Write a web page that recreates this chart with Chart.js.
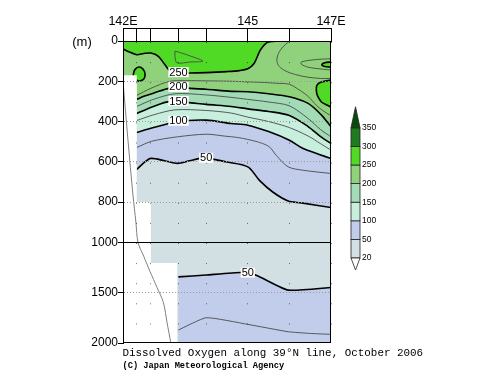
<!DOCTYPE html>
<html><head><meta charset="utf-8">
<script src="https://cdn.jsdelivr.net/npm/chart.js@4.4.1/dist/chart.umd.min.js"></script>
<style>html,body{margin:0;padding:0;background:#fff;}#wrap{width:500px;height:387px;}</style>
</head><body><div id="wrap"><canvas id="c" width="500" height="387"></canvas></div>
<script>
// ---------- data ----------
const stationLon = [142.0, 142.33, 142.67, 143.33, 144.0, 145.0, 146.0, 147.0];
const xLabelLon = [142, 145, 147];
const xLabelText = ['142E', '145', '147E'];
const depthTicks = [0, 200, 400, 600, 800, 1000, 1500, 2000];
const levels = [20, 50, 100, 150, 200, 250, 300, 350];
const bandColors = ['#ffffff','#d2dfe3','#c1cdea','#c8eedd','#a2dbb6','#8fd27b','#50da26','#1e7c1e','#0a4a0a'];

const c250Lon = [142.0,142.12,142.33,142.5,142.67,142.85,143.0,143.15,143.33,143.6,144.0,144.5,144.8,145.0,145.15,145.3,145.45,145.6,145.75,147.0];
const c250Dep = [40,52,68,62,60,76,116,152,158,159,157,152,147,138,112,45,9,2,0,0];
const c225Lon = [142.33,142.67,143.13,143.54,144.0,144.6,145.0,145.3,145.7,146.0,146.25,146.45,146.65,146.8,147.0];
const c225Dep = [270,235,200,197,198,200,203,205,210,215,245,275,320,345,372];
const c225bLon = [146.0,145.82,145.72,145.7,145.75,145.9,146.15,146.45,146.75,147.0];
const c225bDep = [0,35,70,100,125,148,167,180,186,186];
const c200Lon = [142.33,142.5,142.73,143.13,143.54,144.0,144.6,145.0,145.5,146.0,146.45,146.77,147.0];
const c200Dep = [290,275,259,234,234,240,250,252,262,277,310,368,426];
const c175Lon = [142.33,142.73,143.25,144.0,144.6,145.0,145.5,146.0,146.45,146.75,147.0];
const c175Dep = [325,290,262,268,280,290,303,322,385,440,476];
const c150Lon = [142.33,142.73,143.13,143.54,144.0,144.6,145.0,145.5,146.0,146.45,146.75,147.0];
const c150Dep = [360,325,300,305,315,325,337,350,370,425,475,509];
const c125Lon = [142.33,142.73,143.25,144.0,144.6,145.0,145.5,146.0,146.45,146.75,147.0];
const c125Dep = [395,367,342,345,358,378,400,430,472,510,542];
const c100Lon = [142.33,142.65,143.3,144.0,144.6,145.0,145.5,146.0,146.33,146.7,147.0];
const c100Dep = [455,435,401,393,410,418,450,493,534,562,584];
const c75Lon = [142.33,142.69,143.31,144.0,144.47,144.75,145.0,145.3,145.52,145.68,145.97,146.33,147.0];
const c75Dep = [529,498,476,463,473,479,489,505,526,567,625,642,658];
const c50Lon = [142.33,142.5,142.67,143.0,143.31,143.6,143.86,144.18,144.47,145.0,145.28,145.6,145.97,146.29,147.0];
const c50Dep = [638,605,583,595,608,595,583,588,600,625,692,750,795,804,827];
const cd50Lon = [143.33,144.0,144.83,145.2,145.97,147.0];
const cd50Dep = [1343,1325,1300,1327,1475,1449];
const cd75Lon = [143.33,144.0,145.0,145.97,146.5,147.0];
const cd75Dep = [1871,1749,1815,1888,1905,1914];

const loopLeftLon = [142.24,142.28,142.38,142.48,142.53,142.5,142.4,142.33,142.24];
const loopLeftDep = [174,144,129,139,164,189,199,194,174];
const loop275Lon = [143.25,143.5,143.92,143.62,143.3,143.25,143.25];
const loop275Dep = [50,66,100,104,109,80,50];
const rightPatchLon = [147.0,146.77,146.66,146.65,146.68,146.77,146.9,147.0];
const rightPatchDep = [194,204,220,250,274,303,318,328];
const tinyLoopLon = [147.0,146.85,146.78,146.85,147.0];
const tinyLoopDep = [104,108,118,127,130];
const ellipseLon = [147.0,146.65,146.3,146.28,146.45,146.8,147.0];
const ellipseDep = [88,92,103,114,130,140,144];

const maskLon = [142.0,142.333,142.333,142.67,142.67,143.31,143.31];
const maskDep = [170,170,800,800,1205,1205,2000];
const topoLon = [142.0,142.12,142.24,142.31,142.36,142.5,142.65,142.82,142.97,143.06,143.15];
const topoDep = [200,493,766,900,1000,1140,1290,1450,1596,1800,2000];

const labelText = ['250','200','150','100','50','50'];
const labelLon = [143.335,143.335,143.335,143.335,144.0,145.0];
const labelDep = [155,228,298,396,580,1300];

// ---------- helpers ----------
const T = d => d <= 1000 ? d : 1000 + (d - 1000) / 2;
const pts = (lons, deps) => lons.map((x, i) => ({x: x, y: T(deps[i])}));
const THICK = {borderColor: '#000', borderWidth: 1.6};
const THIN = {borderColor: '#4a4a4a', borderWidth: 0.9};
const FILL = c => ({fill: {value: T(2000)}, backgroundColor: c});
function ds(label, lons, deps, o) {
  return Object.assign({label: label, data: pts(lons, deps), pointRadius: 0, pointHoverRadius: 0,
    tension: 0.3, borderJoinStyle: 'round', fill: false}, o);
}
const B = bandColors;
const datasets = [
  ds('surface', [142, 147], [0, 0], Object.assign(FILL(B[6]), {borderWidth: 0, borderColor: 'rgba(0,0,0,0)', order: 100})),
  ds('c250', c250Lon, c250Dep, Object.assign(FILL(B[5]), THICK, {order: 95})),
  ds('loopLeft', loopLeftLon, loopLeftDep, Object.assign({fill: 'shape', backgroundColor: B[6]}, THICK, {order: 94})),
  ds('rightPatch', rightPatchLon, rightPatchDep, Object.assign({fill: 'shape', backgroundColor: B[6]}, THICK, {order: 94})),
  ds('tinyLoop', tinyLoopLon, tinyLoopDep, Object.assign({fill: 'shape', backgroundColor: B[6]}, THICK, {order: 94})),
  ds('c225', c225Lon, c225Dep, Object.assign({}, THIN, {order: 93})),
  ds('c225b', c225bLon, c225bDep, Object.assign({}, THIN, {order: 93})),
  ds('ellipse', ellipseLon, ellipseDep, Object.assign({}, THIN, {order: 93})),
  ds('loop275', loop275Lon, loop275Dep, Object.assign({}, THIN, {order: 93})),
  ds('c200', c200Lon, c200Dep, Object.assign(FILL(B[4]), THICK, {order: 90})),
  ds('c175', c175Lon, c175Dep, Object.assign({}, THIN, {order: 89})),
  ds('c150', c150Lon, c150Dep, Object.assign(FILL(B[3]), THICK, {order: 85})),
  ds('c125', c125Lon, c125Dep, Object.assign({}, THIN, {order: 84})),
  ds('c100', c100Lon, c100Dep, Object.assign(FILL(B[2]), THICK, {order: 80})),
  ds('c75', c75Lon, c75Dep, Object.assign({}, THIN, {order: 79})),
  ds('c50', c50Lon, c50Dep, Object.assign(FILL(B[1]), THICK, {order: 75})),
  ds('cd50', cd50Lon, cd50Dep, Object.assign(FILL(B[2]), THICK, {order: 70, tension: 0.15})),
  ds('cd75', cd75Lon, cd75Dep, Object.assign({}, THIN, {order: 69, tension: 0.15})),
  ds('mask', maskLon, maskDep, Object.assign(FILL('#ffffff'), {tension: 0, borderWidth: 0, borderColor: 'rgba(0,0,0,0)', order: 20})),
  ds('topo', topoLon, topoDep, {borderColor: '#808080', borderWidth: 1, tension: 0.3, order: 10})
];

const deco = {
  id: 'deco',
  afterDraw(chart) {
    const {ctx, chartArea: a, scales: {x, y}} = chart;
    ctx.save();
    // frame
    ctx.strokeStyle = '#000'; ctx.lineWidth = 1;
    ctx.strokeRect(a.left + 0.5, a.top + 0.5, a.right - a.left - 1, a.bottom - a.top - 1);
    // top station bar line
    ctx.beginPath(); ctx.moveTo(x.left, a.top - 12.5); ctx.lineTo(x.right, a.top - 12.5); ctx.stroke();
    // contour labels
    ctx.font = "11px 'Liberation Sans', Arial, sans-serif";
    ctx.textAlign = 'center'; ctx.textBaseline = 'middle';
    labelText.forEach((t, i) => {
      const px = x.getPixelForValue(labelLon[i]);
      const py = y.getPixelForValue(T(labelDep[i]));
      const w = ctx.measureText(t).width;
      ctx.fillStyle = '#ffffff';
      ctx.fillRect(px - w / 2 - 1, py - 5, w + 2, 10);
      ctx.fillStyle = '#000';
      ctx.fillText(t, px, py + 0.5);
    });
    // (m)
    ctx.font = "13px 'Liberation Sans', Arial, sans-serif";
    ctx.fillText('(m)', 82, 42);
    // colorbar
    const cbX = 351, cbW = 9, cbBottom = 258, cbStep = 18.6;
    ctx.lineWidth = 0.8; ctx.strokeStyle = '#222';
    for (let k = 1; k < levels.length; k++) {
      const yT = cbBottom - k * cbStep;
      ctx.fillStyle = bandColors[k];
      ctx.fillRect(cbX, yT, cbW, cbStep);
      ctx.strokeRect(cbX, yT, cbW, cbStep);
    }
    const yTop = cbBottom - (levels.length - 1) * cbStep;
    ctx.beginPath(); ctx.moveTo(cbX, yTop); ctx.lineTo(cbX + cbW / 2, yTop - 21); ctx.lineTo(cbX + cbW, yTop); ctx.closePath();
    ctx.fillStyle = bandColors[8]; ctx.fill(); ctx.stroke();
    ctx.beginPath(); ctx.moveTo(cbX, cbBottom); ctx.lineTo(cbX + cbW / 2, cbBottom + 12); ctx.lineTo(cbX + cbW, cbBottom); ctx.closePath();
    ctx.fillStyle = bandColors[0]; ctx.fill(); ctx.stroke();
    ctx.fillStyle = '#000'; ctx.textAlign = 'left';
    ctx.font = "8.5px 'Liberation Sans', Arial, sans-serif";
    levels.forEach((v, k) => ctx.fillText(String(v), cbX + cbW + 2, cbBottom - k * cbStep));
    // captions
    ctx.font = "10.9px 'Liberation Mono', monospace";
    ctx.fillText('Dissolved Oxygen along 39\u00b0N line, October 2006', 122.5, 353);
    ctx.font = "bold 8.7px 'Liberation Mono', monospace";
    ctx.fillText('(C) Japan Meteorological Agency', 122.5, 366);
    ctx.restore();
  }
};

Chart.defaults.font.family = "'Liberation Sans', Arial, sans-serif";
new Chart(document.getElementById('c'), {
  type: 'line',
  data: {datasets: datasets},
  options: {
    responsive: false, animation: false, devicePixelRatio: 1, events: [],
    layout: {padding: {left: 0, right: 169, top: 0, bottom: 44}},
    plugins: {legend: {display: false}, tooltip: {enabled: false}, title: {display: false}},
    scales: {
      x: {
        type: 'linear', position: 'top', min: 142, max: 147,
        afterBuildTicks: s => { s.ticks = stationLon.map(v => ({value: v})); },
        afterFit: s => { s.height = 41; },
        ticks: {autoSkip: false, maxRotation: 0, padding: 0, color: '#000',
          font: {size: 12.5, lineHeight: 1},
          callback: v => { const i = xLabelLon.indexOf(v); return i >= 0 ? xLabelText[i] : ''; }},
        grid: {z: 1, drawOnChartArea: true, color: 'rgba(0,0,0,0.55)', lineWidth: 1, tickLength: 13, tickColor: '#000', tickWidth: 1},
        border: {z: 1, display: true, color: '#000', width: 1, dash: [1, 19.1]}
      },
      y: {
        type: 'linear', min: 0, max: T(2000), reverse: true,
        afterBuildTicks: s => { s.ticks = depthTicks.map(d => ({value: T(d)})); },
        afterFit: s => { s.width = 123; },
        ticks: {autoSkip: false, padding: 0, color: '#000', font: {size: 12},
          callback: (v, i) => String(depthTicks[i])},
        grid: {
          z: 1,
          color: c => { const v = c.tick ? c.tick.value : -1; return v === T(1000) ? '#000' : (v === 0 || v === T(2000) ? 'rgba(0,0,0,0)' : '#9a9a9a'); },
          lineWidth: 1, tickLength: 5, tickColor: '#000', tickWidth: 1
        },
        border: {z: 1, display: true, color: '#000', width: 1,
          dash: c => { const v = c.tick ? c.tick.value : -1; return v === T(1000) ? [] : [1, 2]; }}
      }
    }
  },
  plugins: [deco]
});
</script></body></html>
